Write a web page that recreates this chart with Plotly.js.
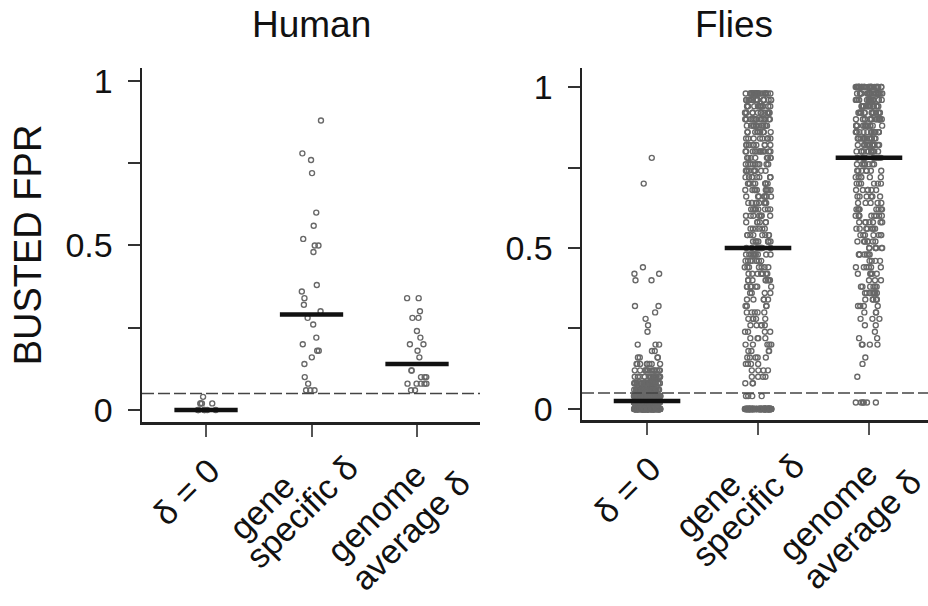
<!DOCTYPE html>
<html>
<head>
<meta charset="utf-8">
<script src="https://cdn.plot.ly/plotly-3.0.1.min.js"></script>
<style>html,body{margin:0;padding:0;background:#fff}#chart{width:928px;height:606px}</style>
</head>
<body>
<div id="chart"></div>
<script>
// ---------------- DATA ----------------
const panels = ["Human", "Flies"];
const categories = ["δ = 0", "gene specific δ", "genome average δ"];
const categoryLines = [["δ = 0"], ["gene", "specific δ"], ["genome", "average δ"]];
const yTickVals = [0, 0.25, 0.5, 0.75, 1];
const yTickText = ["0", "", "0.5", "", "1"];
const yTitle = "BUSTED FPR";
const threshold = 0.05;

const humanDeltaZero = [0, 0, 0, 0, 0, 0, 0.02, 0.02, 0.02, 0.02, 0.04];
const humanGeneSpecific = [0.88, 0.78, 0.76, 0.72, 0.60, 0.56, 0.52, 0.50, 0.50, 0.48,
  0.38, 0.36, 0.34, 0.32, 0.30, 0.28, 0.26, 0.22, 0.20, 0.18, 0.18, 0.16, 0.14,
  0.10, 0.08, 0.06, 0.06, 0.06];
const humanGenomeAverage = [0.34, 0.34, 0.30, 0.28, 0.28, 0.24, 0.22, 0.20, 0.20, 0.18,
  0.16, 0.12, 0.12, 0.10, 0.10, 0.10, 0.08, 0.08, 0.08, 0.08, 0.08, 0.06, 0.06];
const humanMedians = [0, 0.29, 0.14];

// Flies: FPR value levels and how many genes sit at each level
const fliesLevels = [0, 0.02, 0.04, 0.06, 0.08, 0.10, 0.12, 0.14, 0.16, 0.18,
  0.20, 0.22, 0.24, 0.26, 0.28, 0.30, 0.32, 0.34, 0.36, 0.38,
  0.40, 0.42, 0.44, 0.46, 0.48, 0.50, 0.52, 0.54, 0.56, 0.58,
  0.60, 0.62, 0.64, 0.66, 0.68, 0.70, 0.72, 0.74, 0.76, 0.78,
  0.80, 0.82, 0.84, 0.86, 0.88, 0.90, 0.92, 0.94, 0.96, 0.98, 1.00];
const fliesDeltaZeroCounts = [170, 140, 100, 60, 32, 20, 12, 8, 4, 2,
  3, 0, 1, 1, 1, 1, 2, 0, 0, 0,
  2, 2, 1, 0, 0, 0, 0, 0, 0, 0,
  0, 0, 0, 0, 0, 1, 0, 0, 0, 1,
  0, 0, 0, 0, 0, 0, 0, 0, 0, 0, 0];
const fliesGeneSpecificCounts = [110, 0, 4, 0, 3, 4, 4, 4, 5, 4,
  5, 4, 4, 5, 5, 5, 4, 5, 4, 8,
  8, 8, 7, 8, 10, 9, 8, 8, 6, 6,
  8, 9, 9, 8, 10, 10, 9, 9, 9, 8,
  12, 10, 8, 10, 13, 14, 13, 14, 18, 22, 0];
const fliesGenomeAverageCounts = [0, 6, 0, 0, 0, 1, 0, 1, 1, 0,
  4, 2, 1, 2, 3, 3, 4, 6, 8, 6,
  3, 5, 6, 4, 7, 7, 7, 7, 7, 7,
  9, 8, 5, 6, 6, 6, 6, 7, 8, 10,
  12, 15, 14, 15, 14, 15, 15, 16, 18, 22, 28];
const fliesMedians = [0.025, 0.5, 0.78];

// ---------------- BUILD ----------------
function expand(levels, counts) {
  const out = [];
  levels.forEach((v, i) => { for (let k = 0; k < counts[i]; k++) out.push(v); });
  return out;
}
const panelValues = [
  [humanDeltaZero, humanGeneSpecific, humanGenomeAverage],
  [expand(fliesLevels, fliesDeltaZeroCounts),
   expand(fliesLevels, fliesGeneSpecificCounts),
   expand(fliesLevels, fliesGenomeAverageCounts)]
];
const panelMedians = [humanMedians, fliesMedians];

// seeded jitter for horizontal spread (layout only)
function mulberry32(a) {
  return function () {
    a |= 0; a = a + 0x6D2B79F5 | 0;
    let t = Math.imul(a ^ a >>> 15, 1 | a);
    t = t + Math.imul(t ^ t >>> 7, 61 | t) ^ t;
    return ((t ^ t >>> 14) >>> 0) / 4294967296;
  };
}
const rng = mulberry32(20240607);
const jitterWidth = [0.1, 0.12];
const barHalf = 0.3;

const FONT = "Liberation Sans, Arial, Helvetica, sans-serif";
const pointColor = "#686868";
const traces = [];
panelValues.forEach((cats, p) => {
  const xa = p === 0 ? "x" : "x2", ya = p === 0 ? "y" : "y2";
  cats.forEach((vals, ci) => {
    traces.push({
      type: "scatter", mode: "markers", xaxis: xa, yaxis: ya, name: categories[ci],
      x: vals.map(() => ci + (rng() * 2 - 1) * jitterWidth[p]),
      y: vals,
      marker: { symbol: "circle-open", size: 5, color: pointColor, line: { width: 1.4, color: pointColor } },
      hoverinfo: "skip", cliponaxis: false
    });
  });
  panelMedians[p].forEach((m, ci) => {
    traces.push({
      type: "scatter", mode: "lines", xaxis: xa, yaxis: ya,
      x: [ci - barHalf, ci + barHalf], y: [m, m],
      line: { color: "#111", width: 4.5 }, hoverinfo: "skip"
    });
  });
});

const W = 928, H = 606, L = 142, R = 0, T = 68, B = 184;
const PW = W - L - R, PH = H - T - B;
const px2x = px => (px - L) / PW;
const px2y = py => (H - B - py) / PH;
const axisBottomPx = [422, 420];

const xBase = {
  tickvals: [0, 1, 2], showticklabels: false, ticks: "outside", ticklen: 12, tickwidth: 2,
  tickcolor: "#555", showline: true, linecolor: "#222", linewidth: 2.5,
  showgrid: false, zeroline: false, fixedrange: true
};
const yBase = {
  tickvals: yTickVals, ticktext: yTickText, ticks: "outside", ticklen: 12, tickwidth: 2,
  tickcolor: "#333", showline: true, linecolor: "#222", linewidth: 2.5,
  showgrid: false, zeroline: false, fixedrange: true,
  tickfont: { family: FONT, size: 34, color: "#111" }, ticklabelstandoff: 8
};

const annotations = [];
// panel titles
const titleCenters = [311, 734];
panels.forEach((t, p) => annotations.push({
  text: t, xref: "paper", yref: "paper", x: px2x(titleCenters[p]), y: px2y(24),
  xanchor: "center", yanchor: "middle", showarrow: false,
  font: { family: FONT, size: 37, color: "#111" }
}));
// category labels: one rotated annotation per text line, centre offset (px) from tick / axis line
const lineOffsets = [[[-20, 70]], [[-50, 85], [-10, 90]], [[-41, 91], [-7, 109]]];
[0, 1].forEach(p => categoryLines.forEach((lines, ci) => lines.forEach((ln, li) => {
  const off = lineOffsets[ci][li];
  annotations.push({
    text: ln, xref: p === 0 ? "x" : "x2", yref: "paper", x: ci, y: 0,
    xanchor: "center", yanchor: "middle",
    xshift: off[0], yshift: -(off[1] + axisBottomPx[p] - (H - B)),
    textangle: -45, showarrow: false,
    font: { family: FONT, size: 34, color: "#111" }
  });
})));

const shapes = [
  { type: "line", xref: "x domain", yref: "y", x0: 0, x1: 1, y0: threshold, y1: threshold,
    line: { color: "#444", width: 1.5, dash: "12px,4px" } },
  { type: "line", xref: "x2 domain", yref: "y2", x0: 0, x1: 1, y0: threshold, y1: threshold,
    line: { color: "#444", width: 1.5, dash: "12px,4px" } }
];

const layout = {
  width: W, height: H, margin: { l: L, r: R, t: T, b: B, pad: 0 },
  paper_bgcolor: "#fff", plot_bgcolor: "#fff", showlegend: false,
  font: { family: FONT, size: 34, color: "#111" },
  xaxis: Object.assign({}, xBase, { domain: [0, px2x(480)], range: [-0.607, 2.597], anchor: "y" }),
  yaxis: Object.assign({}, yBase, { domain: [0, 1], range: [-0.0365, 1.0395], anchor: "x",
    title: { text: yTitle, font: { family: FONT, size: 38, color: "#111" }, standoff: 12 } }),
  xaxis2: Object.assign({}, xBase, { domain: [px2x(582), 1], range: [-0.586, 2.532], anchor: "y2" }),
  yaxis2: Object.assign({}, yBase, { domain: [px2y(420), 1], range: [-0.0342, 1.059], anchor: "x2" }),
  annotations: annotations, shapes: shapes
};

Plotly.newPlot("chart", traces, layout, { staticPlot: true, displayModeBar: false });
</script>
</body>
</html>
